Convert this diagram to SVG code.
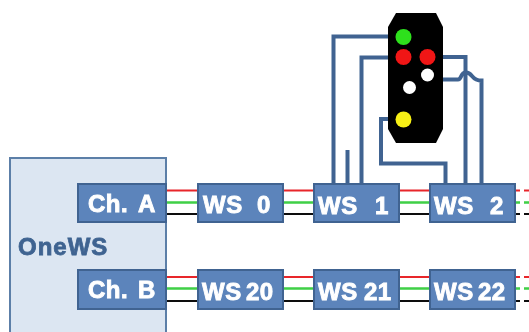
<svg xmlns="http://www.w3.org/2000/svg" width="529" height="332" viewBox="0 0 529 332">
<defs><filter id="soft" x="-5%" y="-5%" width="110%" height="110%"><feGaussianBlur stdDeviation="0.6"/></filter></defs>
<style>
.box{fill:#5b84bb;stroke:#3f6491;stroke-width:2}
.lbl{font:bold 24px "Liberation Sans",Arial,sans-serif;fill:#fff;stroke:#fff;stroke-width:.9px;letter-spacing:.5px}
.wire{fill:none;stroke:#3f6491;stroke-width:4}
.r{stroke:#e8262a;stroke-width:2}.g{stroke:#3fcf46;stroke-width:2.500}.k{stroke:#111;stroke-width:2}
.d{stroke-dasharray:5 4}
</style>
<rect width="529" height="332" fill="#fff"/>
<g filter="url(#soft)">
<g id="onews">
<rect x="10" y="158" width="156" height="180" fill="#dce6f2" stroke="#5b7fa8" stroke-width="2"/>
<text x="18" y="255" style="font:bold 24px 'Liberation Sans',Arial,sans-serif;fill:#3f6491;stroke:#3f6491;stroke-width:.8px;letter-spacing:1px">OneWS</text>
</g>
<g id="connectors">
<g id="bus-a">
<path class="r" d="M166 190.500H198M283 190.500H314M399 190.500H430"/><path class="g" d="M166 202.500H198M283 202.500H314M399 202.500H430"/><path class="k" d="M166 214H198M283 214H314M399 214H430"/>
<path class="r d" d="M515 190.500H529"/><path class="g d" d="M515 202.500H529"/><path class="k d" d="M515 214H529"/>
</g>
<g id="bus-b">
<path class="r" d="M166 277H198M283 277H314M399 277H430"/><path class="g" d="M166 288.500H198M283 288.500H314M399 288.500H430"/><path class="k" d="M166 301H198M283 301H314M399 301H430"/>
<path class="r d" d="M515 277H529"/><path class="g d" d="M515 288.500H529"/><path class="k d" d="M515 301H529"/>
</g>
<path class="wire" d="M333.500 184V36.500H389"/>
<path class="wire" d="M361.500 184V57.500H389"/>
<path class="wire" d="M347.500 184V150"/>
<path class="wire" d="M391 119H381V163.500H445.500V184"/>
<path class="wire" d="M442 57H465.500V184"/>
<path class="wire" d="M443 79.500H458C462 79.500 460 72.500 466 72.500C473 72.500 471 80.500 481.500 80.500V184"/>
</g>
<g id="signal">
<polygon points="396,13 436,13 443,27 443,129 436,143 396,143 388,129 388,27" fill="#000"/>
<circle cx="403.500" cy="37" r="8" fill="#2ee01f"/>
<circle cx="403.500" cy="57" r="8" fill="#f01414"/>
<circle cx="427.500" cy="57" r="8" fill="#f01414"/>
<circle cx="427.500" cy="75" r="6.500" fill="#fff"/>
<circle cx="409.500" cy="87.500" r="6.500" fill="#fff"/>
<circle cx="403.500" cy="119.500" r="8" fill="#f7f012"/>
</g>
<g id="ch-a"><rect class="box" x="78" y="184" width="88" height="38"/><text class="lbl" y="212"><tspan x="88">Ch.</tspan> <tspan x="138">A</tspan></text></g>
<g id="ch-b"><rect class="box" x="78" y="270" width="88" height="39"/><text class="lbl" y="298"><tspan x="88">Ch.</tspan> <tspan x="138">B</tspan></text></g>
<g id="ws0"><rect class="box" x="198" y="184" width="85" height="38"/><text class="lbl" y="213"><tspan x="203">WS</tspan> <tspan x="257">0</tspan></text></g>
<g id="ws1"><rect class="box" x="314" y="184" width="85" height="38"/><text class="lbl" y="214"><tspan x="318">WS</tspan> <tspan x="375">1</tspan></text></g>
<g id="ws2"><rect class="box" x="430" y="184" width="85" height="38"/><text class="lbl" y="214"><tspan x="434">WS</tspan> <tspan x="490">2</tspan></text></g>
<g id="ws20"><rect class="box" x="198" y="270" width="85" height="39"/><text class="lbl" y="300"><tspan x="202">WS</tspan> <tspan x="246">20</tspan></text></g>
<g id="ws21"><rect class="box" x="314" y="270" width="85" height="39"/><text class="lbl" y="300"><tspan x="318">WS</tspan> <tspan x="364">21</tspan></text></g>
<g id="ws22"><rect class="box" x="430" y="270" width="85" height="39"/><text class="lbl" y="300"><tspan x="434">WS</tspan> <tspan x="478">22</tspan></text></g>
</g>
</svg>
